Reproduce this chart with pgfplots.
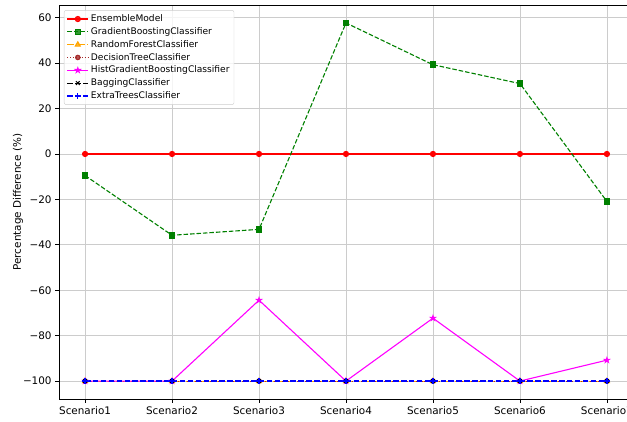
\documentclass[border=0pt]{standalone}
\usepackage{pgfplots}
\pgfplotsset{compat=1.18}
\usepackage{fontspec}
\setmainfont{DejaVu Sans}
\usetikzlibrary{plotmarks}
\definecolor{mplorange}{RGB}{255,165,0}
\definecolor{mplbrown}{RGB}{165,42,42}
\definecolor{mplgreen}{RGB}{0,128,0}
\definecolor{mplred}{RGB}{255,0,0}
\definecolor{mplblue}{RGB}{0,0,255}
\definecolor{mplmagenta}{RGB}{255,0,255}
\definecolor{mplblack}{RGB}{0,0,0}
\tikzset{
  mpldashed/.style={dash pattern=on 5.5pt off 2.4pt},
  mpldotted/.style={dash pattern=on 1.1pt off 1.8pt},
  mpldashdot/.style={dash pattern=on 6.5pt off 1.8pt on 1.1pt off 1.8pt},
}
\pgfdeclareplotmark{fstar}{%
  \pgfpathmoveto{\pgfqpointpolar{90}{\pgfplotmarksize}}%
  \pgfpathlineto{\pgfqpointpolar{126}{0.382\pgfplotmarksize}}%
  \pgfpathlineto{\pgfqpointpolar{162}{\pgfplotmarksize}}%
  \pgfpathlineto{\pgfqpointpolar{198}{0.382\pgfplotmarksize}}%
  \pgfpathlineto{\pgfqpointpolar{234}{\pgfplotmarksize}}%
  \pgfpathlineto{\pgfqpointpolar{270}{0.382\pgfplotmarksize}}%
  \pgfpathlineto{\pgfqpointpolar{306}{\pgfplotmarksize}}%
  \pgfpathlineto{\pgfqpointpolar{342}{0.382\pgfplotmarksize}}%
  \pgfpathlineto{\pgfqpointpolar{18}{\pgfplotmarksize}}%
  \pgfpathlineto{\pgfqpointpolar{54}{0.382\pgfplotmarksize}}%
  \pgfpathclose\pgfusepathqfillstroke}
\pgfdeclareplotmark{mplus}{%
  \pgfpathmoveto{\pgfqpoint{-\pgfplotmarksize}{0pt}}%
  \pgfpathlineto{\pgfqpoint{\pgfplotmarksize}{0pt}}%
  \pgfpathmoveto{\pgfqpoint{0pt}{-\pgfplotmarksize}}%
  \pgfpathlineto{\pgfqpoint{0pt}{\pgfplotmarksize}}%
  \pgfusepathqstroke}
\begin{document}
\begin{tikzpicture}
\begin{axis}[
  scale only axis,
  width=574pt, height=394pt,
  xmin=-0.3, xmax=6.3,
  ymin=-107.9, ymax=65.6,
  xtick={0,1,2,3,4,5,6},
  xticklabels={Scenario1,Scenario2,Scenario3,Scenario4,Scenario5,Scenario6,Scenario7},
  ytick={-100,-80,-60,-40,-20,0,20,40,60},
  yticklabels={−100,−80,−60,−40,−20,0,20,40,60},
  tick pos=left,
  tick align=outside,
  major tick length=3.6pt,
  every tick/.style={black, line width=0.8pt},
  tick label style={font=\fontsize{10.4}{12}\selectfont, black},
  xticklabel style={inner sep=0pt, yshift=-3.6pt},
  yticklabel style={inner sep=0pt, xshift=-3.6pt},
  grid=major,
  major grid style={black!20, line width=0.8pt},
  axis line style={black, line width=0.8pt},
  ylabel={Percentage Difference (\%)},
  ylabel style={font=\fontsize{10.4}{12}\selectfont, at={(axis description cs:-0.0714,0.5)}, anchor=center},
  legend style={font=\fontsize{9.1}{11}\selectfont, at={(axis description cs:0.0087,0.987)}, anchor=north west,
    draw=black!20, rounded corners=2pt, fill=white, fill opacity=0.8, text opacity=1,
    row sep=0.4pt, inner sep=2.5pt},
  legend image code/.code={\draw[mark repeat=2,mark phase=2] plot coordinates {(0cm,0cm) (0.37cm,0cm) (0.74cm,0cm)};},
  legend cell align=left,
  clip=false,
]
\addplot[color=mplred, solid, line width=1.2pt, mark=*, mark size=2.5pt] coordinates {(0,0) (1,0) (2,0) (3,0) (4,0) (5,0) (6,0)};
\addlegendentry{EnsembleModel}
\addplot[color=mplgreen, dash pattern=on 4.5pt off 2pt, line width=1.1pt, mark=square*, mark size=2.7pt, mark options={solid}] coordinates {(0,-9.5) (1,-35.8) (2,-33.2) (3,57.7) (4,39.3) (5,31.0) (6,-20.9)};
\addlegendentry{GradientBoostingClassifier}
\addplot[color=mplorange, mpldashdot, line width=1.1pt, mark=triangle*, mark size=2.8pt, mark options={solid}] coordinates {(0,-100) (1,-100) (2,-100) (3,-100) (4,-100) (5,-100) (6,-100)};
\addlegendentry{RandomForestClassifier}
\addplot[color=mplbrown, mpldotted, line width=1.1pt, mark=*, mark size=2.2pt, mark options={solid}] coordinates {(0,-100) (1,-100) (2,-100) (3,-100) (4,-100) (5,-100) (6,-100)};
\addlegendentry{DecisionTreeClassifier}
\addplot[color=mplmagenta, solid, line width=1.1pt, mark=fstar, mark size=2.4pt] coordinates {(0,-100) (1,-100) (2,-64.4) (3,-100) (4,-72.3) (5,-100) (6,-90.8)};
\addlegendentry{HistGradientBoostingClassifier}
\addplot[color=mplblack, mpldashed, line width=1.0pt, mark=x, mark size=2.6pt, mark options={solid}] coordinates {(0,-100) (1,-100) (2,-100) (3,-100) (4,-100) (5,-100) (6,-100)};
\addlegendentry{BaggingClassifier}
\addplot[draw=mplblue, color=mplblue, mpldashed, line width=1.2pt, mark=mplus, mark size=2.8pt, mark options={solid, draw=mplblue}] coordinates {(0,-100) (1,-100) (2,-100) (3,-100) (4,-100) (5,-100) (6,-100)};
\addlegendentry{ExtraTreesClassifier}
\end{axis}
\pgfresetboundingbox
\path[use as bounding box] (-59pt,-22pt) rectangle (568pt,399pt);
\end{tikzpicture}
\end{document}
